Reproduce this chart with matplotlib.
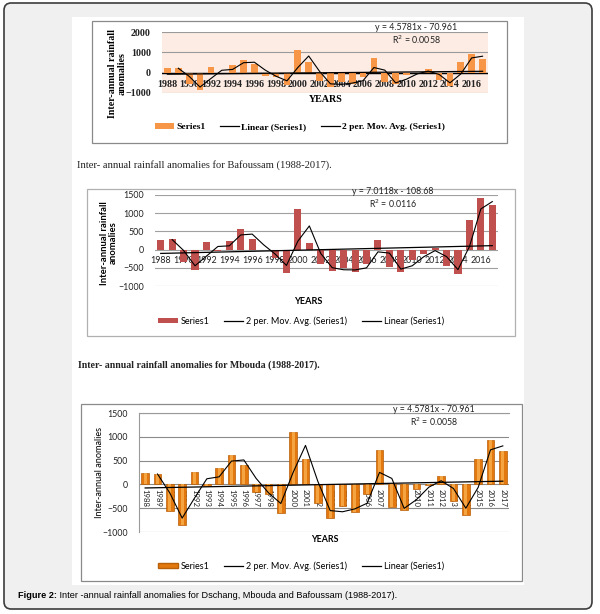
import numpy as np
import matplotlib.pyplot as plt
from matplotlib.patches import Rectangle, FancyBboxPatch, Patch
from matplotlib.lines import Line2D

years = list(range(1988, 2018))
# Dschang (top and bottom panels)
dschang = [229, 208, -569, -847, 271, -35, 354, 625, 403, -153,
           -200, -604, 1111, 528, -400, -700, -450, -580, -210, 715,
           -465, -542, -97, -20, 174, -347, -653, 528, 924, 694]
# Mbouda (middle panel)
mbouda = [266, 284, -330, -559, 201, -30, 238, 568, 284, -20,
          -220, -650, 1118, 183, -400, -595, -513, -604, -400, 275,
          -467, -604, -284, -110, 55, -440, -660, 824, 1410, 1227]

eq_top = ["y = 4.5781x - 70.961", "R$^2$ = 0.0058"]
eq_mid = ["y = 7.0118x - 108.68", "R$^2$ = 0.0116"]
eq_bot = ["y = 4.5781x - 70.961", "R$^2$ = 0.0058"]

cap1 = "Inter- annual rainfall anomalies for Bafoussam (1988-2017)."
cap2 = "Inter- annual rainfall anomalies for Mbouda (1988-2017)."
cap3_bold = "Figure 2:"
cap3 = " Inter -annual rainfall anomalies for Dschang, Mbouda and Bafoussam (1988-2017)."

W, H = 600, 614
fig = plt.figure(figsize=(6, 6.14), dpi=100)
fig.patch.set_facecolor('white')


def fx(x):
    return x / W


def fy(y):
    return 1 - y / H


def rect(x0, y0, x1, y1, **kw):
    r = Rectangle((fx(x0), fy(y1)), (x1 - x0) / W, (y1 - y0) / H,
                  transform=fig.transFigure, **kw)
    fig.patches.append(r)


def make_ax(x0, y0, x1, y1):
    return fig.add_axes([fx(x0), fy(y1), (x1 - x0) / W, (y1 - y0) / H])


# page background
frame = FancyBboxPatch((fx(4), fy(609)), 588 / W, 606 / H,
                       boxstyle='round,pad=0,rounding_size=0.012',
                       transform=fig.transFigure, fc='#f0f0f0', ec='#3c3c3c',
                       lw=1.2, zorder=-10)
fig.patches.append(frame)
rect(72, 17, 524, 585, fc='white', ec='none', zorder=-9)
rect(92, 21, 507, 143, fill=False, ec='#8a8a8a', lw=0.9, zorder=-8)
rect(87, 189, 515, 336, fill=False, ec='#b0b0b0', lw=0.9, zorder=-8)
rect(81, 404, 522, 581, fill=False, ec='#8a8a8a', lw=0.9, zorder=-8)


def draw(ax, vals, color, ylim, yticks, font, fsize, bold, step, rot, pad,
         grid_c, ec='none', width=0.62):
    vals = np.array(vals, dtype=float)
    x = np.arange(len(vals))
    ax.bar(x, vals, width=width, color=color, edgecolor=ec, lw=0.5, zorder=2)
    ma = (vals[1:] + vals[:-1]) / 2
    ax.plot(x[1:], ma, color='black', lw=0.8, zorder=4)
    coef = np.polyfit(x + 1, vals, 1)
    ax.plot(x, np.polyval(coef, x + 1), color='black', lw=0.9, zorder=3)
    ax.set_xlim(-0.5, len(vals) - 0.5)
    ax.set_ylim(*ylim)
    ax.set_yticks(yticks)
    ax.yaxis.grid(True, color=grid_c, lw=0.8)
    ax.set_axisbelow(True)
    for s in ['top', 'right', 'left']:
        ax.spines[s].set_visible(False)
    ax.spines['bottom'].set_position(('data', 0))
    ax.spines['bottom'].set_visible(False)
    ax.set_xticks(x[::step])
    ax.set_xticklabels([str(y) for y in years[::step]], rotation=rot)
    ax.tick_params(axis='both', length=0)
    ax.tick_params(axis='x', pad=pad)
    ax.tick_params(axis='y', pad=8)
    w = 'bold' if bold else 'normal'
    for lab in ax.get_xticklabels() + ax.get_yticklabels():
        lab.set_fontfamily(font)
        lab.set_fontsize(fsize)
        lab.set_fontweight(w)
        lab.set_color('#222222')
    return x


# ---- top chart ----
ax1 = make_ax(162, 32, 488, 93)
ax1.set_facecolor('#fcece4')
draw(ax1, dschang, '#f79646', (-1000, 2000), [-1000, 0, 1000, 2000],
     'Liberation Serif', 7.2, True, 2, 0, 5, '#9a9a9a')
ax1.axhline(0, color='black', lw=1.0, zorder=1)
fig.text(fx(416), fy(28), eq_top[0], ha='center', va='center',
         family='Lato', fontsize=6.4, color='#222222')
fig.text(fx(416), fy(40), eq_top[1], ha='center', va='center',
         family='Lato', fontsize=6.4, color='#222222')
fig.text(fx(326), fy(100), "YEARS", ha='center', va='center',
         family='Liberation Serif', fontweight='bold', fontsize=7.2)
fig.text(fx(117), fy(74), "Inter-annual rainfall\nanomalies", ha='center',
         va='center', rotation=90, family='Liberation Serif',
         fontweight='bold', fontsize=7.2, linespacing=1.05)
h1 = [Patch(fc='#f79646', ec='none'), Line2D([], [], color='k', lw=0.9),
      Line2D([], [], color='k', lw=0.9)]
fig.legend(h1, ["Series1", "Linear (Series1)", "2 per. Mov. Avg. (Series1)"],
           loc='center', bbox_to_anchor=(fx(300), fy(127)), ncol=3,
           frameon=False, handlelength=2.0, handleheight=0.6,
           columnspacing=1.5, handletextpad=0.3,
           prop={'family': 'Liberation Serif', 'weight': 'bold', 'size': 6.8})

fig.text(fx(77), fy(165), cap1, ha='left', va='center',
         family='Liberation Serif', fontsize=7.6, color='#222222')

# ---- middle chart ----
ax2 = make_ax(155, 195, 498, 286)
draw(ax2, mbouda, '#c0504d', (-1000, 1500), [-1000, -500, 0, 500, 1000, 1500],
     'Lato', 6.4, False, 2, 0, 4.5, '#a0a0a0')
fig.text(fx(393), fy(191), eq_mid[0], ha='center', va='center',
         family='Lato', fontsize=6.3, color='#222222')
fig.text(fx(393), fy(204), eq_mid[1], ha='center', va='center',
         family='Lato', fontsize=6.3, color='#222222')
fig.text(fx(308), fy(302), "YEARS", ha='center', va='center',
         family='Lato', fontweight='bold', fontsize=6.6)
fig.text(fx(109), fy(243), "Inter-annual rainfall\nanomalies", ha='center',
         va='center', rotation=90, family='Lato', fontweight='bold',
         fontsize=6.8, linespacing=1.05)
h2 = [Patch(fc='#c0504d', ec='none'), Line2D([], [], color='k', lw=0.9),
      Line2D([], [], color='k', lw=0.9)]
fig.legend(h2, ["Series1", "2 per. Mov. Avg. (Series1)", "Linear (Series1)"],
           loc='center', bbox_to_anchor=(fx(301), fy(321)), ncol=3,
           frameon=False, handlelength=2.2, handleheight=0.6,
           columnspacing=1.6, handletextpad=0.3,
           prop={'family': 'Lato', 'size': 6.5})

fig.text(fx(78), fy(365), cap2, ha='left', va='center',
         family='Liberation Serif', fontweight='bold', fontsize=7.1,
         color='#222222')

# ---- bottom chart ----
ax3 = make_ax(139, 413, 509, 532)
xs = draw(ax3, dschang, '#e2780e', (-1000, 1500),
          [-1000, -500, 0, 500, 1000, 1500], 'Lato', 6.3, False, 1, 270, 3.5,
          '#8a8a8a', ec='#b85f08', width=0.6)
ax3.bar(xs, dschang, width=0.26, color='#fbb452', alpha=0.75, zorder=2.5)
for lab in ax3.get_xticklabels():
    lab.set_fontsize(5.6)
ax3.spines['left'].set_visible(True)
ax3.spines['left'].set_color('#9a9a9a')
ax3.spines['top'].set_visible(True)
ax3.spines['top'].set_color('#9a9a9a')
fig.text(fx(434), fy(409), eq_bot[0], ha='center', va='center',
         family='Lato', fontsize=6.3, color='#222222')
fig.text(fx(434), fy(422), eq_bot[1], ha='center', va='center',
         family='Lato', fontsize=6.3, color='#222222')
fig.text(fx(325), fy(540), "YEARS", ha='center', va='center',
         family='Lato', fontweight='bold', fontsize=6.4)
fig.text(fx(99), fy(472), "Inter-annual anomalies", ha='center',
         va='center', rotation=90, family='Lato', fontsize=6.6)
h3 = [Patch(fc='#e2780e', ec='#b85f08'), Line2D([], [], color='k', lw=0.9),
      Line2D([], [], color='k', lw=0.9)]
fig.legend(h3, ["Series1", "2 per. Mov. Avg. (Series1)", "Linear (Series1)"],
           loc='center', bbox_to_anchor=(fx(301), fy(566)), ncol=3,
           frameon=False, handlelength=2.2, handleheight=0.6,
           columnspacing=1.6, handletextpad=0.3,
           prop={'family': 'Lato', 'size': 6.5})

# figure caption
t = fig.text(fx(18), fy(595), cap3_bold, ha='left', va='center',
             family='Liberation Sans', fontweight='bold', fontsize=6.6)
r = fig.canvas.get_renderer()
bb = t.get_window_extent(r).transformed(fig.transFigure.inverted())
fig.text(bb.x1, fy(595), cap3, ha='left', va='center',
         family='Liberation Sans', fontsize=6.6)

fig.savefig('out.png', dpi=100)
